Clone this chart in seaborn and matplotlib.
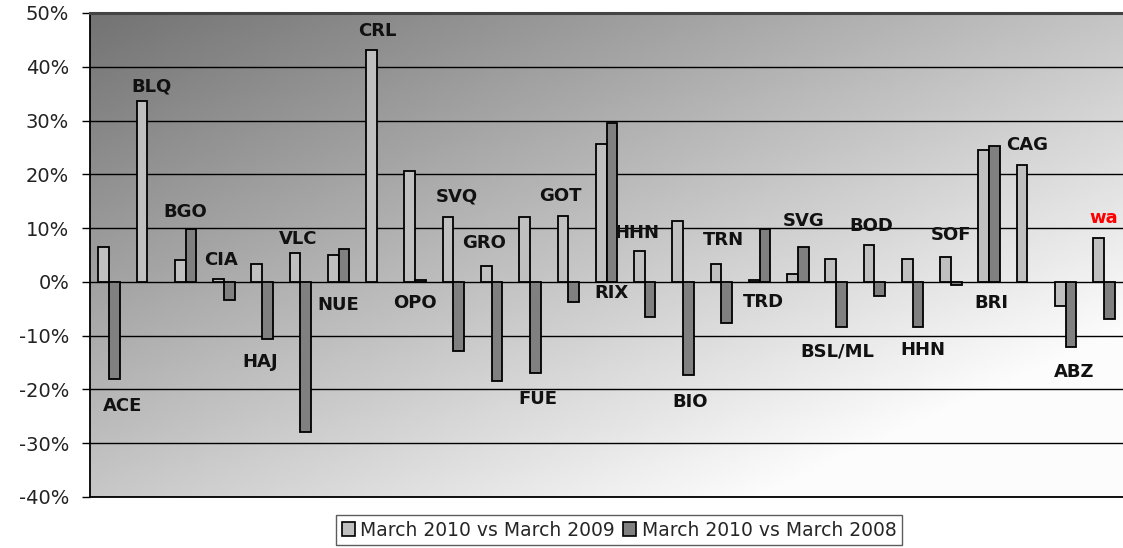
import numpy as np
import pandas as pd
import matplotlib
matplotlib.use("Agg")
import matplotlib.pyplot as plt
import seaborn as sns
from matplotlib.ticker import FuncFormatter
from matplotlib.patches import Patch

# ---- data ----
airports = ["ACE", "BLQ", "BGO", "CIA", "HAJ", "VLC", "NUE", "CRL", "OPO", "SVQ",
            "GRO", "FUE", "GOT", "RIX", "HHN", "BIO", "TRN", "TRD", "SVG", "BSL/ML",
            "BOD", "HHN", "SOF", "BRI", "CAG", "ABZ", "wa"]
vs2009 = [6.4, 33.7, 4.0, 0.5, 3.3, 5.3, 5.0, 43.1, 20.7, 12.0,
          3.0, 12.0, 12.3, 25.6, 5.8, 11.4, 3.3, 0.3, 1.5, 4.3,
          6.8, 4.3, 4.7, 24.6, 21.8, -4.4, 8.2]
vs2008 = [-18.1, np.nan, 9.9, -3.4, -10.7, -27.9, 6.1, np.nan, 0.4, -12.8,
          -18.4, -16.9, -3.7, 29.5, -6.5, -17.4, -7.6, 9.9, 6.5, -8.3,
          -2.6, -8.3, -0.6, 25.3, np.nan, -12.2, -6.9]
series_names = ["March 2010 vs March 2009", "March 2010 vs March 2008"]
# data-label anchor (value axis, %) and horizontal shift (category units)
label_y = [-23.0, 36.3, 13.0, 4.1, -14.9, 8.0, -4.3, 46.7, -3.9, 15.8,
           7.3, -21.8, 16.0, -2.0, 9.1, -22.3, 7.8, -3.7, 11.4, -13.0,
           10.4, -12.7, 8.8, -3.9, 25.5, -16.8, 11.9]
label_dx = [0.35, 0.1, 0.0, -0.08, -0.05, -0.05, 0.0, 0.0, 0.0, 0.09,
            -0.2, 0.2, -0.2, 0.14, -0.2, 0.19, 0.05, 0.1, 0.16, 0.03,
            -0.08, 0.27, 0.0, 0.05, 0.0, 0.23, 0.0]
yticks = [-40, -30, -20, -10, 0, 10, 20, 30, 40, 50]

n = len(airports)
keys = [f"{i:02d}" for i in range(n)]
df = pd.DataFrame({
    "key": keys * 2,
    "value": vs2009 + vs2008,
    "series": [series_names[0]] * n + [series_names[1]] * n,
})

sns.set_style("white")
plt.rcParams["font.family"] = ["DejaVu Sans"]
plt.rcParams["axes.unicode_minus"] = False

fig = plt.figure(figsize=(11.23, 5.48), dpi=100)
ax = fig.add_axes([90 / 1123, 1 - 497 / 548, 1 - 90 / 1123, (497 - 13) / 548])

# background gradient: dark top-left -> light bottom-right
gx, gy = np.meshgrid(np.linspace(0, 1, 300), np.linspace(0, 1, 200))
grad = np.clip(0.45 + 0.32 * gx + 0.33 * gy, 0, 0.985)
ax.imshow(grad, cmap="gray", vmin=0, vmax=1, extent=[0, 1, 0, 1], origin="upper",
          transform=ax.transAxes, aspect="auto", zorder=0, interpolation="bilinear")

palette = {series_names[0]: "#C0C0C0", series_names[1]: "#808080"}
sns.barplot(data=df, x="key", y="value", hue="series", order=keys,
            hue_order=series_names, palette=palette, width=0.56,
            edgecolor="black", linewidth=1.3, saturation=1, ax=ax,
            legend=False, zorder=3)

ax.set_xlim(-0.5, n - 0.5)
ax.set_ylim(-40, 50)
ax.set_yticks(yticks)
ax.yaxis.set_major_formatter(FuncFormatter(lambda v, p: f"{int(v)}%"))
ax.set_xticks([])
ax.set_xlabel("")
ax.set_ylabel("")
for v in yticks:
    ax.axhline(v, color="black", lw=1.0, zorder=1)
ax.tick_params(axis="y", left=True, length=6, width=1, color="black",
               pad=9, labelsize=14, labelcolor="#222222")

for side in ["left", "bottom"]:
    ax.spines[side].set_color("black")
    ax.spines[side].set_linewidth(1.3)
ax.spines["top"].set_color("#444444")
ax.spines["top"].set_linewidth(2.2)
ax.spines["right"].set_visible(False)

for i, name in enumerate(airports):
    ax.text(i + label_dx[i], label_y[i], name, ha="center", va="center",
            fontsize=13, fontweight="bold",
            color="red" if name == "wa" else "#111111", zorder=5)

handles = [Patch(facecolor=palette[s], edgecolor="black", linewidth=1.2, label=s)
           for s in series_names]
leg = fig.legend(handles=handles, loc="center", bbox_to_anchor=(619 / 1123, 1 - 530 / 548),
                 ncol=2, frameon=True, fontsize=13.5, handlelength=0.7, handleheight=0.7,
                 handletextpad=0.3, columnspacing=0.4, borderpad=0.3, fancybox=False)
leg.get_frame().set_edgecolor("#333333")
leg.get_frame().set_linewidth(1.0)

fig.savefig("out.png", dpi=100, facecolor="white")
